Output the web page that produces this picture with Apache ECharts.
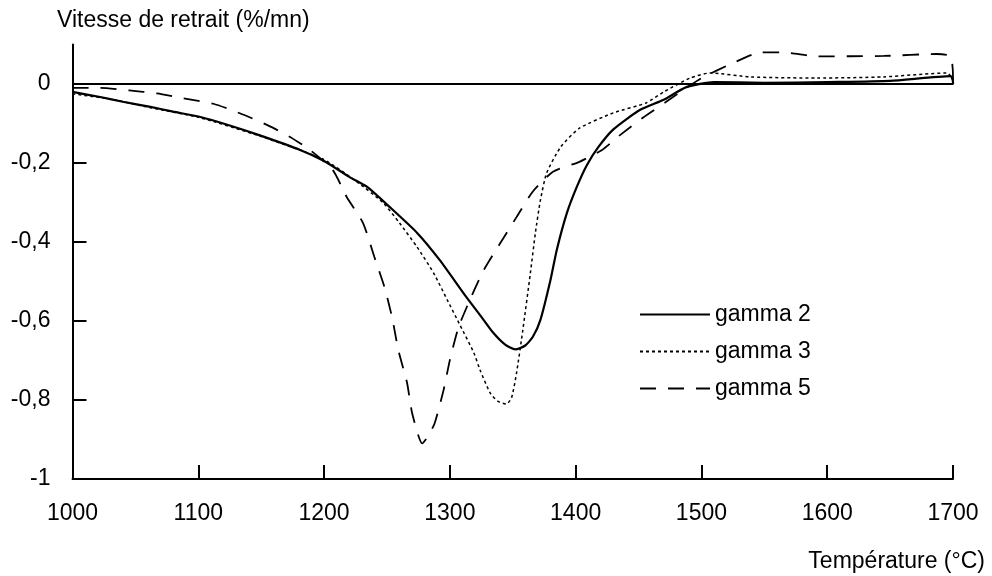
<!DOCTYPE html>
<html>
<head>
<meta charset="utf-8">
<script src="https://cdn.jsdelivr.net/npm/echarts@6/dist/echarts.min.js"></script>
<style>
html,body{margin:0;padding:0;background:#fff;}
#chart{width:992px;height:576px;}
</style>
</head>
<body>
<div id="chart"></div>
<script>
// Temperatures (°C) and shrinkage rate (%/mn) for each sample (heating then cooling back along 0)
var g2T = [1000,1022,1040,1062,1080,1101,1125,1149,1181,1200,1220,1234,1252,1274,1292,1313,1324,1334,1344,1352,1360,1366,1372,1380,1385,1393,1401,1409,1418,1430,1451,1470,1488,1510,1550,1600,1650,1698,1700,1700,1000];
var g2V = [-0.02,-0.033,-0.045,-0.058,-0.07,-0.083,-0.105,-0.13,-0.167,-0.195,-0.235,-0.26,-0.311,-0.377,-0.446,-0.539,-0.585,-0.628,-0.66,-0.672,-0.662,-0.64,-0.597,-0.496,-0.42,-0.327,-0.26,-0.205,-0.16,-0.115,-0.066,-0.04,-0.008,0.005,0.003,0.005,0.008,0.02,0.005,0,0];

var g3T = [1000,1030,1062,1101,1149,1199,1225,1247,1260,1274,1287,1298,1308,1319,1324,1332,1338,1345,1349,1353,1358,1364,1368,1372,1377,1388,1403,1430,1456,1470,1491,1507,1539,1592,1645,1695,1700,1700,1000];
var g3V = [-0.025,-0.038,-0.06,-0.085,-0.132,-0.19,-0.245,-0.301,-0.352,-0.413,-0.478,-0.547,-0.61,-0.68,-0.724,-0.782,-0.803,-0.81,-0.795,-0.732,-0.623,-0.479,-0.377,-0.294,-0.225,-0.16,-0.112,-0.073,-0.048,-0.02,0.015,0.028,0.018,0.015,0.018,0.028,0.01,0,0];

var g5T = [1000,1022,1045,1067,1088,1112,1133,1155,1173,1190,1207,1218,1231,1240,1248,1254,1259,1266,1270,1278,1283,1288,1295,1300,1307,1317,1327,1340,1353,1366,1382,1403,1421,1435,1454,1472,1488,1500,1525,1547,1565,1592,1645,1687,1698,1700,1700,1000];
var g5V = [-0.01,-0.01,-0.016,-0.024,-0.036,-0.05,-0.074,-0.104,-0.134,-0.17,-0.218,-0.286,-0.352,-0.438,-0.514,-0.59,-0.673,-0.757,-0.833,-0.91,-0.89,-0.858,-0.775,-0.699,-0.615,-0.539,-0.471,-0.403,-0.337,-0.272,-0.222,-0.197,-0.167,-0.13,-0.084,-0.045,-0.01,0.015,0.053,0.08,0.08,0.07,0.071,0.076,0.07,0.02,0,0];

var seriesNames = ['gamma 2','gamma 3','gamma 5'];
var yTicks = [-1,-0.8,-0.6,-0.4,-0.2,0];
var xTicks = [1000,1100,1200,1300,1400,1500,1600,1700];

function zip(t, v){ return t.map(function(x,i){ return [x, v[i]]; }); }

var FONT = '"Liberation Sans", Arial, sans-serif';
var FS = 23;
var chart = echarts.init(document.getElementById('chart'));
chart.setOption({
  backgroundColor: '#fff',
  animation: false,
  title: [
    {text: 'Vitesse de retrait (%/mn)', left: 52, top: 4,
     textStyle: {fontFamily: FONT, fontSize: FS, fontWeight: 'normal', color: '#000'}},
    {text: 'Température (°C)', right: 2, top: 545,
     textStyle: {fontFamily: FONT, fontSize: FS, fontWeight: 'normal', color: '#000'}}
  ],
  legend: {
    orient: 'vertical', left: 634, top: 298,
    itemWidth: 70, itemHeight: 10, itemGap: 14,
    itemStyle: {opacity: 0},
    textStyle: {fontFamily: FONT, fontSize: FS, color: '#000'},
    data: seriesNames
  },
  grid: {left: 72.5, right: 39, top: 44.5, bottom: 97},
  xAxis: {
    type: 'value', min: 1000, max: 1700, interval: 100,
    axisLine: {onZero: false, lineStyle: {color: '#000', width: 2}},
    axisTick: {inside: true, length: 14, lineStyle: {color: '#000', width: 2}},
    axisLabel: {margin: 23, color: '#000', fontFamily: FONT, fontSize: FS,
      formatter: function(v){ return String(v); }},
    splitLine: {show: false}
  },
  yAxis: {
    type: 'value', min: -1, max: 0.1, interval: 0.2,
    axisLine: {show: true, onZero: false, lineStyle: {color: '#000', width: 2}},
    axisTick: {show: true, inside: true, length: 14, lineStyle: {color: '#000', width: 2}, customValues: yTicks},
    axisLabel: {margin: 22, color: '#000', fontFamily: FONT, fontSize: FS, customValues: yTicks,
      formatter: function(v){ var r = Math.round(v*10)/10; return String(r).replace('.', ','); }},
    splitLine: {show: false}
  },
  series: [
    {name: seriesNames[0], type: 'line', data: zip(g2T, g2V), symbol: 'none', smooth: 0.2,
     lineStyle: {color: '#000', width: 2.2, type: 'solid'}, itemStyle: {color: '#000'}},
    {name: seriesNames[1], type: 'line', data: zip(g3T, g3V), symbol: 'none', smooth: 0.2,
     lineStyle: {color: '#000', width: 1.5, type: [3, 3]}, itemStyle: {color: '#000'}},
    {name: seriesNames[2], type: 'line', data: zip(g5T, g5V), symbol: 'none', smooth: 0.2,
     lineStyle: {color: '#000', width: 1.8, type: [16, 12]}, itemStyle: {color: '#000'}}
  ]
});
</script>
</body>
</html>
